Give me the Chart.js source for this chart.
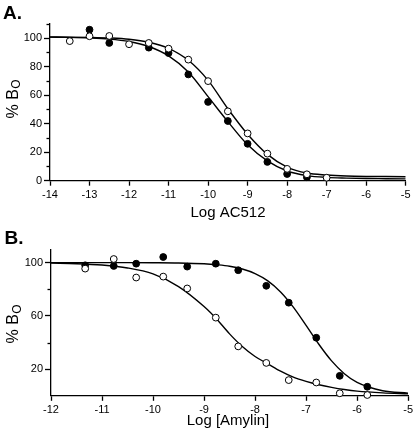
<!DOCTYPE html>
<html>
<head>
<meta charset="utf-8">
<script src="https://cdn.jsdelivr.net/npm/chart.js@4/dist/chart.umd.min.js"></script>
<style>
  html, body { margin: 0; padding: 0; background: #ffffff; }
  .panel { position: absolute; left: 0; width: 416px; height: 220px; }
  #wrapA { top: 0; }
  #wrapB { top: 220px; }
</style>
</head>
<body>
<div class="panel" id="wrapA"><canvas id="chartA" width="416" height="220"></canvas></div>
<div class="panel" id="wrapB"><canvas id="chartB" width="416" height="220"></canvas></div>
<script>
// ---------- Panel A data (Log AC512) ----------
const aTickLabels = [-14, -13, -12, -11, -10, -9, -8, -7, -6, -5];
const aFilledX = [-13, -12.5, -11.5, -11, -10.5, -10, -9.5, -9, -8.5, -8, -7.5];
const aFilledY = [106, 96.7, 93.4, 89.6, 74.6, 55.3, 41.9, 25.9, 13.2, 4.7, 2.4];
const aOpenX = [-13.5, -13, -12.5, -12, -11.5, -11, -10.5, -10, -9.5, -9, -8.5, -8, -7.5, -7];
const aOpenY = [98, 101.4, 101.6, 95.8, 96.7, 92.7, 85, 69.9, 48.7, 33.2, 19, 8.3, 4.5, 2.1];
// fitted curves
const aCurveX = [-14, -13.5, -13, -12.5, -12, -11.5, -11, -10.5, -10, -9.5, -9, -8.5, -8, -7.5, -7, -6.5, -6, -5.5, -5];
const aFilledCurve = [100.8, 100.6, 100.2, 99.4, 97.7, 94.2, 87.6, 76.3, 59, 41.5, 25.2, 13.9, 6.8, 3.6, 2.3, 1.8, 1.5, 1.4, 1.3];
const aOpenCurve = [100.9, 100.8, 100.6, 100.2, 99.3, 97.2, 92.9, 84.5, 70.4, 50.5, 32.6, 18.5, 9.6, 5.4, 4.0, 3.3, 3.0, 2.9, 2.8];
const aYLabels = [0, 20, 40, 60, 80, 100];
const aYMinor = [10, 30, 50, 70, 90, 110];

// ---------- Panel B data (Log [Amylin]) ----------
const bTickLabels = [-12, -11, -10, -9, -8, -7, -6, -5];
const bX = [-11.33, -10.77, -10.33, -9.8, -9.33, -8.77, -8.33, -7.78, -7.34, -6.8, -6.34, -5.8];
const bFilledY = [98, 97.5, 99.2, 104.2, 97, 99.2, 94.3, 82.6, 69.9, 43.6, 15, 6.8];
const bOpenY = [95.5, 102.7, 88.8, 89.5, 80.6, 58.7, 37.1, 24.7, 11.8, 10, 1.9, 0.6];
const bCurveX = [-12, -11.5, -11, -10.5, -10, -9.5, -9, -8.75, -8.5, -8.25, -8, -7.75, -7.5, -7.25, -7, -6.75, -6.5, -6.25, -6, -5.5, -5];
const bFilledCurve = [100, 100, 100, 100, 99.9, 99.7, 99.1, 98.4, 97.3, 95.2, 91.8, 86.3, 78, 66.6, 52.9, 38.7, 26.2, 16.6, 10.1, 3.8, 2];
const bOpenCurve = [99.6, 99.2, 98.2, 96, 91.5, 82, 67, 57.5, 46.5, 37, 29.5, 24, 18.5, 14, 10.8, 8.3, 6.3, 4.7, 3.5, 2.2, 1.5];
const bYLabels = [100, 60, 20];
const bYMinor = [80, 40];

const FONT = '"Liberation Sans", Arial, Helvetica, sans-serif';
const INK = '#000000';

function pts(xs, ys) { return xs.map((x, i) => ({ x: x, y: ys[i] })); }

function pointSet(xs, ys, filled) {
  return {
    type: 'scatter',
    data: pts(xs, ys),
    pointRadius: 3.4,
    pointHoverRadius: 3.4,
    pointBackgroundColor: filled ? INK : '#ffffff',
    pointBorderColor: INK,
    pointBorderWidth: 1,
    showLine: false,
    clip: false
  };
}
function curveSet(xs, ys) {
  return {
    type: 'line',
    data: pts(xs, ys),
    borderColor: INK,
    borderWidth: 1.4,
    pointRadius: 0,
    fill: false,
    cubicInterpolationMode: 'monotone'
  };
}

function makeChart(id, cfg) {
  const textPlugin = {
    id: 'texts' + id,
    afterDraw(chart) {
      const ctx = chart.ctx;
      const area = chart.chartArea;
      const ys = chart.scales.y;
      ctx.save();
      // minor ticks
      ctx.strokeStyle = INK;
      ctx.lineWidth = 1.3;
      cfg.yMinor.forEach(v => {
        const py = Math.round(ys.getPixelForValue(v)) + 0.5;
        ctx.beginPath();
        ctx.moveTo(area.left - 3.5, py);
        ctx.lineTo(area.left, py);
        ctx.stroke();
      });
      ctx.fillStyle = INK;
      // panel letter
      ctx.font = 'bold 19px ' + FONT;
      ctx.textAlign = 'left';
      ctx.textBaseline = 'alphabetic';
      ctx.fillText(cfg.letter, cfg.letterX, cfg.letterY);
      // x title
      ctx.font = '15px ' + FONT;
      ctx.textAlign = 'center';
      ctx.textBaseline = 'middle';
      ctx.fillText(cfg.xTitle, cfg.xTitleX, cfg.xTitleY);
      // y title "% B" with subscript O
      ctx.translate(cfg.yTitleX, cfg.yTitleY);
      ctx.rotate(-Math.PI / 2);
      ctx.textAlign = 'left';
      ctx.textBaseline = 'alphabetic';
      ctx.font = '16px ' + FONT;
      const main = '% B';
      ctx.fillText(main, 0, 0);
      const w = ctx.measureText(main).width;
      ctx.font = '12px ' + FONT;
      ctx.fillText('O', w + 0.5, 2.5);
      ctx.restore();
    }
  };

  return new Chart(document.getElementById(id), {
    data: { datasets: cfg.datasets },
    options: {
      responsive: false,
      animation: false,
      devicePixelRatio: 1,
      layout: { padding: { left: 0, right: cfg.padRight, top: cfg.padTop, bottom: 0 } },
      plugins: { legend: { display: false }, tooltip: { enabled: false }, title: { display: false } },
      scales: {
        x: {
          type: 'linear',
          position: 'bottom',
          min: cfg.xMin,
          max: cfg.xMax,
          afterBuildTicks: (s) => { s.ticks = cfg.xTicks.map(v => ({ value: v })); },
          afterFit: (s) => { s.height = cfg.xHeight; },
          ticks: {
            color: INK,
            font: { family: FONT, size: 11 },
            padding: 3,
            autoSkip: false,
            maxRotation: 0,
            callback: (v) => String(v)
          },
          grid: { display: true, drawOnChartArea: false, drawTicks: true, tickLength: 5, tickColor: INK, tickWidth: 1.3 },
          border: { display: true, color: INK, width: 1.3 }
        },
        y: {
          type: 'linear',
          position: 'left',
          min: 0,
          max: 110,
          afterBuildTicks: (s) => { s.ticks = cfg.yLabels.map(v => ({ value: v })); },
          afterFit: (s) => { s.width = cfg.yWidth; },
          ticks: {
            color: INK,
            font: { family: FONT, size: 11 },
            padding: 2,
            autoSkip: false,
            callback: (v) => String(v)
          },
          grid: { display: true, drawOnChartArea: false, drawTicks: true, tickLength: 6, tickColor: INK, tickWidth: 1.3 },
          border: { display: true, color: INK, width: 1.3 }
        }
      }
    },
    plugins: [textPlugin]
  });
}

makeChart('chartA', {
  datasets: [
    pointSet(aOpenX, aOpenY, false),
    pointSet(aFilledX, aFilledY, true),
    curveSet(aCurveX, aOpenCurve),
    curveSet(aCurveX, aFilledCurve)
  ],
  xMin: -14, xMax: -5, xTicks: aTickLabels,
  yLabels: aYLabels, yMinor: aYMinor,
  padRight: 10.3, padTop: 24, xHeight: 39.3, yWidth: 50,
  letter: 'A.', letterX: 3, letterY: 19,
  xTitle: 'Log AC512', xTitleX: 228, xTitleY: 213,
  yTitleX: 17.5, yTitleY: 118.5
});

makeChart('chartB', {
  datasets: [
    pointSet(bX, bOpenY, false),
    pointSet(bX, bFilledY, true),
    curveSet(bCurveX, bOpenCurve),
    curveSet(bCurveX, bFilledCurve)
  ],
  xMin: -12, xMax: -5, xTicks: bTickLabels,
  yLabels: bYLabels, yMinor: bYMinor,
  padRight: 7.7, padTop: 29.3, xHeight: 44.2, yWidth: 51,
  letter: 'B.', letterX: 4.5, letterY: 23.5,
  xTitle: 'Log [Amylin]', xTitleX: 228, xTitleY: 201,
  yTitleX: 18, yTitleY: 123.5
});
</script>
</body>
</html>
